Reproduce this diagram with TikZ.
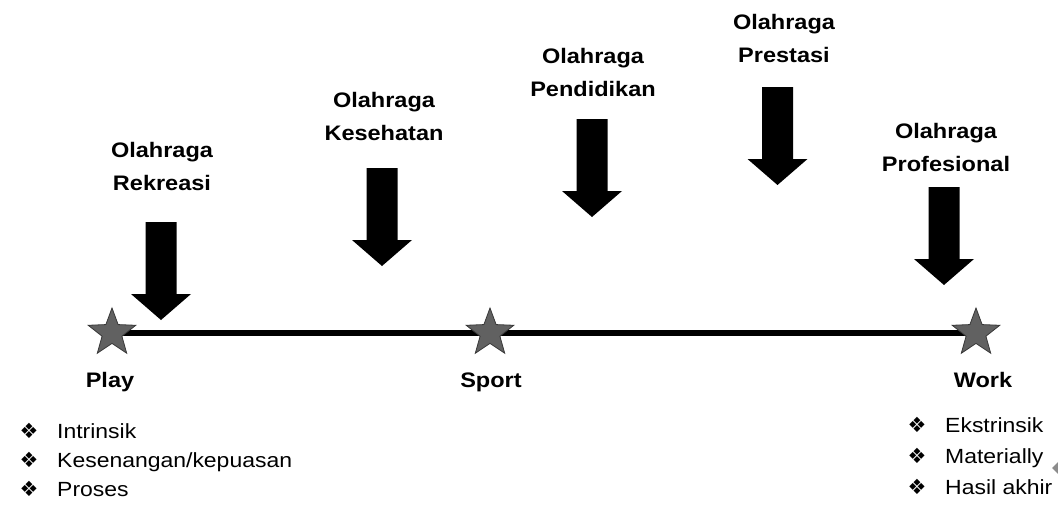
\documentclass[tikz,border=0pt]{standalone}
\usepackage{fontspec}
\setmainfont{Liberation Sans}[FakeStretch=1.12]
\newfontfamily\symfont{DejaVu Sans}
\usetikzlibrary{shapes.geometric,backgrounds}
\tikzset{
  lbl/.style={font=\bfseries\fontsize{21}{33}\selectfont, align=center, anchor=north, inner sep=0pt},
  endlbl/.style={font=\bfseries\fontsize{21}{25}\selectfont, anchor=base, inner sep=0pt},
  item/.style={font=\fontsize{20.5}{25}\selectfont, anchor=base west, inner sep=0pt},
  bul/.style={font=\symfont\fontsize{21}{24}\selectfont, inner sep=0pt},
  starnode/.style={star, star points=5, star point ratio=2.4, minimum size=50pt, inner sep=0pt,
     fill=black!62, draw=black!78, line width=0.8pt},
  pics/darrow/.style={code={
     \fill[black] (-15.5,0) -- (15.5,0) -- (15.5,72) -- (30,72) -- (0,98) -- (-30,72) -- (-15.5,72) -- cycle;
  }}
}
\begin{document}
\begin{tikzpicture}[x=1pt,y=-1pt]
\useasboundingbox (0,0) rectangle (1058,504);
% stars
\node[starnode] (play) at (112,333) {};
\node[starnode] (sport) at (490,333) {};
\node[starnode] (work) at (976,333) {};
\begin{scope}[on background layer]
\draw[line width=6pt] (play.center) -- (work.center);
\end{scope}
% arrows
\pic (a1) at (161,222) {darrow};
\pic (a2) at (382,168) {darrow};
\pic (a3) at (592,119) {darrow};
\pic (a4) at (777.5,87) {darrow};
\pic (a5) at (944,187) {darrow};
% labels
\node[lbl] (l1) at (162,142) {Olahraga\\Rekreasi};
\node[lbl] (l2) at (384,92) {Olahraga\\Kesehatan};
\node[lbl] (l3) at (593,48) {Olahraga\\Pendidikan};
\node[lbl] (l4) at (784,14) {Olahraga\\Prestasi};
\node[lbl] (l5) at (946,123) {Olahraga\\Profesional};
% end labels
\node[endlbl] (tplay) at (110,387) {Play};
\node[endlbl] (tsport) at (491,387) {Sport};
\node[endlbl] (twork) at (983,387) {Work};
% left list
\node[bul] (b1) at (29,431) {❖};
\node[item] (i1) at (57,438) {Intrinsik};
\node[bul] (b2) at (29,460) {❖};
\node[item] (i2) at (57,467) {Kesenangan/kepuasan};
\node[bul] (b3) at (29,489) {❖};
\node[item] (i3) at (57,496) {Proses};
% right list
\node[bul] (c1) at (917,425) {❖};
\node[item] (j1) at (945,432) {Ekstrinsik};
\node[bul] (c2) at (917,456) {❖};
\node[item] (j2) at (945,463) {Materially};
\node[bul] (c3) at (917,487) {❖};
\node[item] (j3) at (945,494) {Hasil akhir};
% small gray mark at right edge
\fill[black!45] (1052,468) -- (1058,462) -- (1058,474) -- cycle;
\end{tikzpicture}
\end{document}
